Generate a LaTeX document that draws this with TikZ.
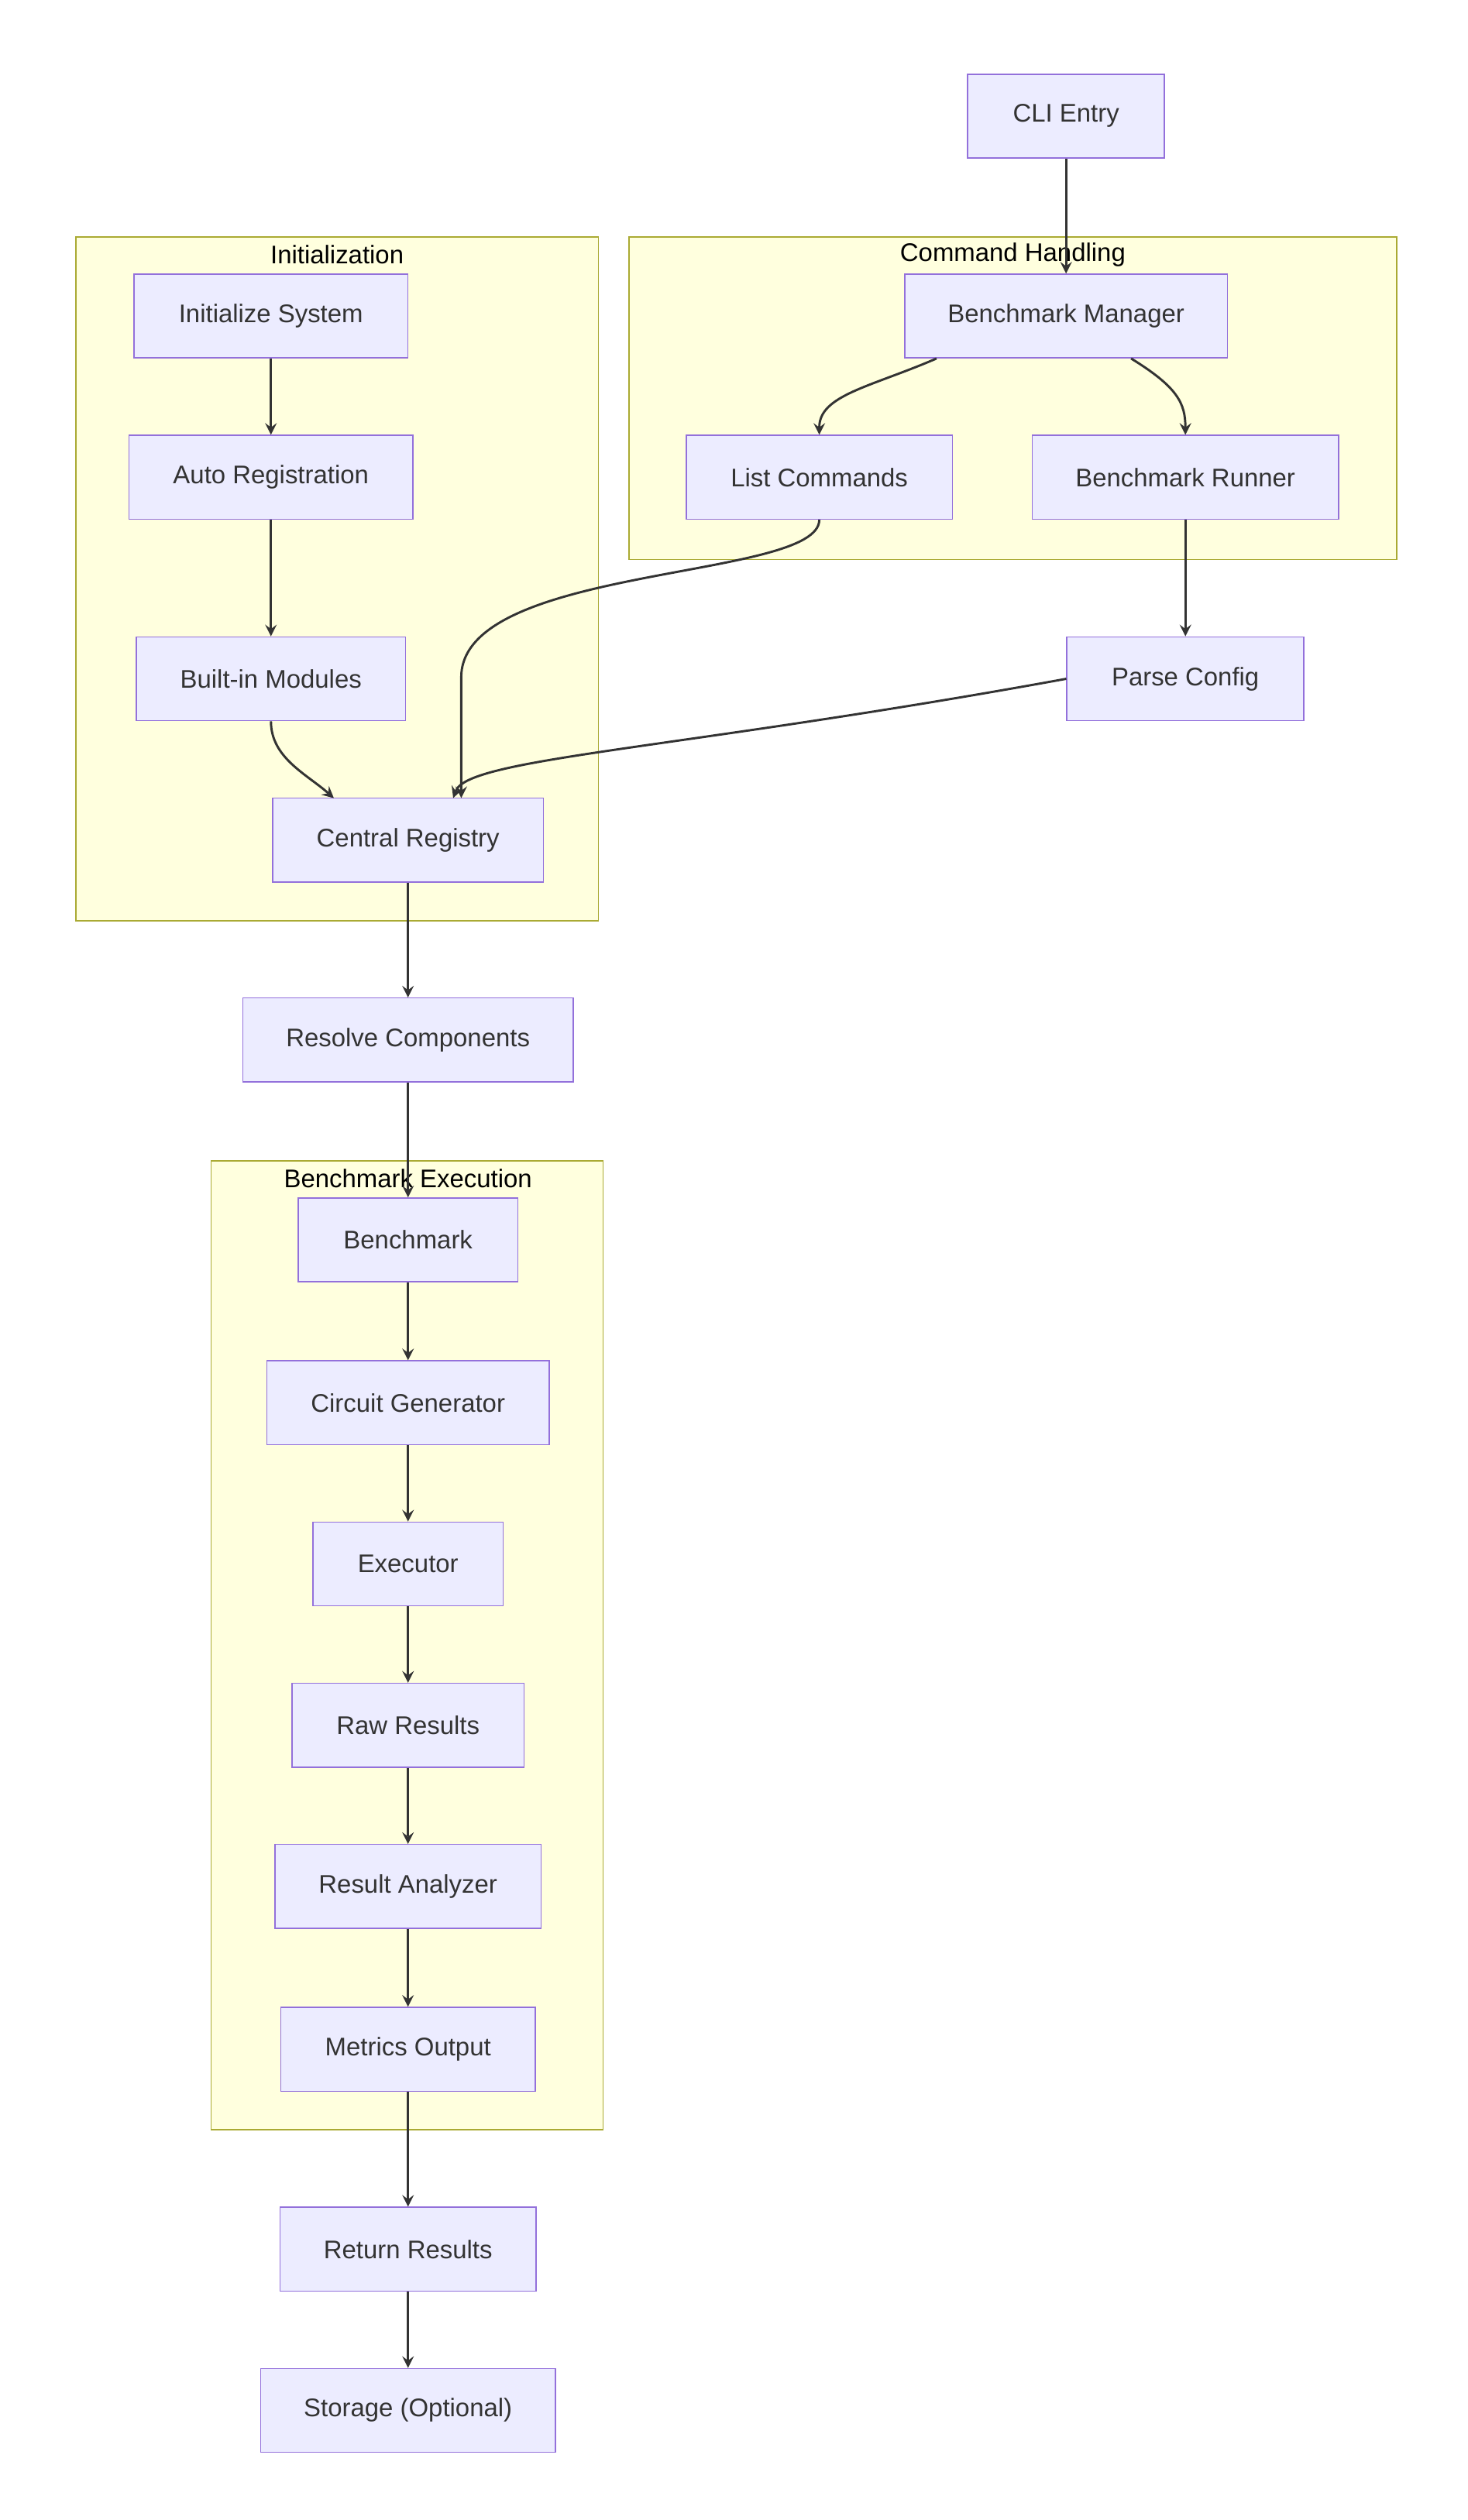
\documentclass[tikz,border=0pt]{standalone}
\usepackage{fontspec}
\setmainfont{Liberation Sans}
\usetikzlibrary{arrows}
\definecolor{boxfill}{HTML}{ECECFF}
\definecolor{boxline}{HTML}{9370DB}
\definecolor{grpfill}{HTML}{FFFFDE}
\definecolor{grpline}{HTML}{AAAA33}
\definecolor{edge}{HTML}{333333}
\begin{document}
\begin{tikzpicture}[x=0.02cm,y=-0.02cm,>=stealth,
  box/.style={draw=boxline,fill=boxfill,minimum height=1.04cm,inner sep=0pt,
    font=\fontsize{9}{11}\selectfont,text=edge},
  grp/.style={draw=grpline,fill=grpfill},
  flow/.style={->,draw=edge,thick}]

\useasboundingbox (0,0) rectangle (910,1563);

% clusters
\draw[grp] (47,147) rectangle (371,571);
\draw[grp] (390,147) rectangle (866,347);
\draw[grp] (131,720) rectangle (374,1321);
\node[font=\fontsize{9}{11}\selectfont] at (209,158) {Initialization};
\node[font=\fontsize{9}{11}\selectfont] at (628,158) {Command Handling};
\node[font=\fontsize{9}{11}\selectfont] at (253,731) {Benchmark Execution};

\node[box,minimum width=2.44cm] (cli) at (661,72) {CLI Entry};
\node[box,minimum width=4cm] (mgr) at (661,196) {Benchmark Manager};
\node[box,minimum width=3.3cm] (list) at (508,296) {List Commands};
\node[box,minimum width=3.8cm] (runner) at (735,296) {Benchmark Runner};
\node[box,minimum width=2.94cm] (parse) at (735,421) {Parse Config};

\node[box,minimum width=3.4cm] (init) at (168,196) {Initialize System};
\node[box,minimum width=3.52cm] (auto) at (168,296) {Auto Registration};
\node[box,minimum width=3.34cm] (builtin) at (168,421) {Built-in Modules};
\node[box,minimum width=3.36cm] (registry) at (253,521) {Central Registry};
\node[box,minimum width=4.1cm] (resolve) at (253,645) {Resolve Components};

\node[box,minimum width=2.72cm] (bench) at (253,769) {Benchmark};
\node[box,minimum width=3.5cm] (circuit) at (253,870) {Circuit Generator};
\node[box,minimum width=2.36cm] (exec) at (253,970) {Executor};
\node[box,minimum width=2.88cm] (raw) at (253,1070) {Raw Results};
\node[box,minimum width=3.3cm] (analyzer) at (253,1170) {Result Analyzer};
\node[box,minimum width=3.16cm] (metrics) at (253,1271) {Metrics Output};
\node[box,minimum width=3.18cm] (ret) at (253,1395) {Return Results};
\node[box,minimum width=3.66cm] (store) at (253,1495) {Storage (Optional)};

\draw[flow] (cli) -- (mgr);
\draw[flow] (mgr.south west)+(20,0) .. controls (540,240) and (508,245) .. (list.north);
\draw[flow] (mgr.south east)+(-60,0) .. controls (730,240) and (735,250) .. (runner.north);
\draw[flow] (runner) -- (parse);
\draw[flow] (init) -- (auto);
\draw[flow] (auto) -- (builtin);
\draw[flow] (builtin.south) .. controls (168,470) and (190,480) .. (207,495);
\draw[flow] (list.south) .. controls (508,360) and (286,350) .. (286,420) -- (286,495);
\draw[flow] (parse.west) .. controls (420,465) and (290,470) .. (281,495);
\draw[flow] (registry) -- (resolve);
\draw[flow] (resolve) -- (bench);
\draw[flow] (bench) -- (circuit);
\draw[flow] (circuit) -- (exec);
\draw[flow] (exec) -- (raw);
\draw[flow] (raw) -- (analyzer);
\draw[flow] (analyzer) -- (metrics);
\draw[flow] (metrics) -- (ret);
\draw[flow] (ret) -- (store);

\end{tikzpicture}
\end{document}
